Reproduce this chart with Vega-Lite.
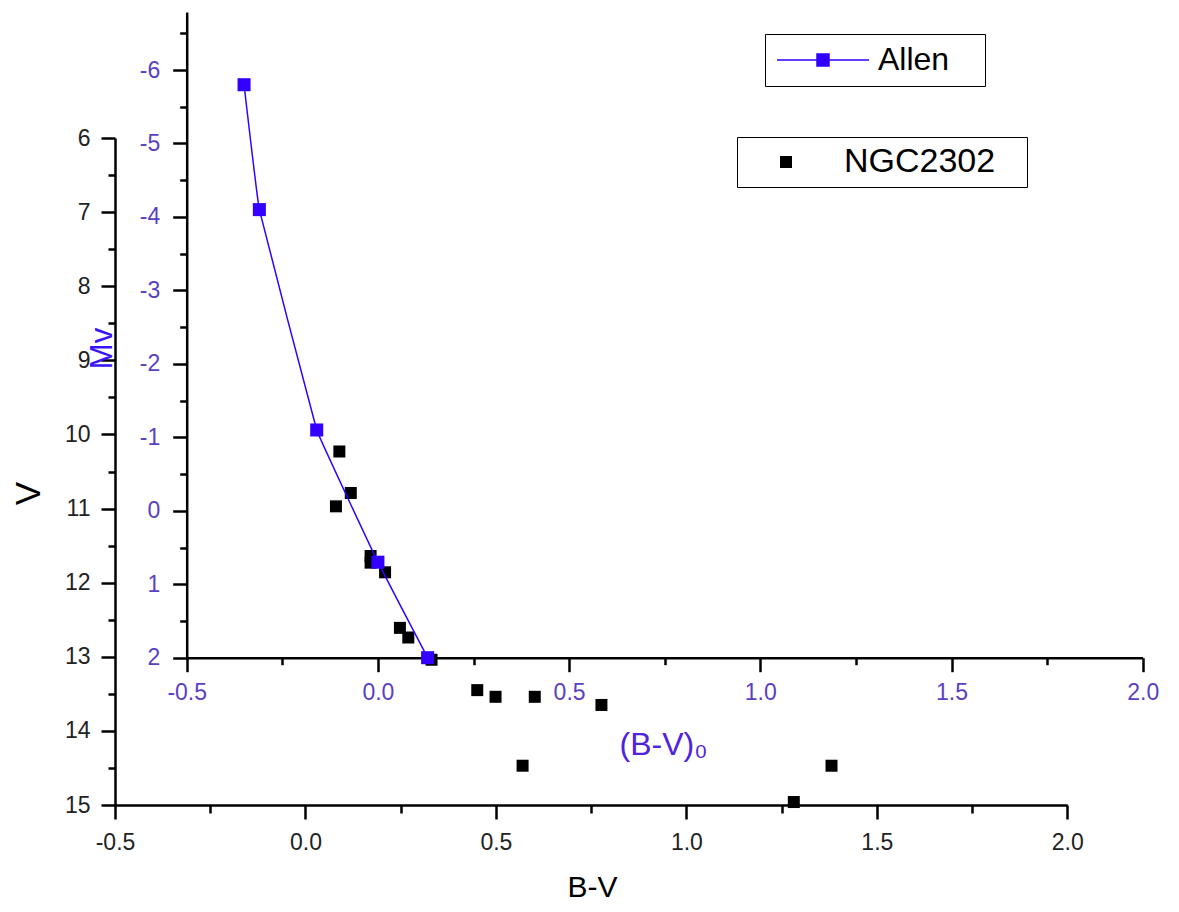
{
  "$schema": "https://vega.github.io/schema/vega-lite/v6.json",
  "autosize": {"type": "none"},
  "padding": {"left": 115, "top": 12, "right": 36, "bottom": 107},
  "width": 1028,
  "height": 793,
  "background": "white",
  "config": {
    "view": {"stroke": null},
    "axis": {
      "grid": false,
      "domainColor": "black",
      "domainWidth": 2.5,
      "tickColor": "black",
      "tickWidth": 2.5,
      "labelFont": "Liberation Sans",
      "labelFontSize": 23,
      "titleFont": "Liberation Sans",
      "titleFontWeight": "normal",
      "labelFlush": false,
      "labelBound": false,
      "labelOverlap": false
    }
  },
  "datasets": {
    "ngc": [
      {"series": "NGC2302", "bv": 0.089, "v": 10.23},
      {"series": "NGC2302", "bv": 0.119, "v": 10.79},
      {"series": "NGC2302", "bv": 0.080, "v": 10.97},
      {"series": "NGC2302", "bv": 0.171, "v": 11.64},
      {"series": "NGC2302", "bv": 0.171, "v": 11.73},
      {"series": "NGC2302", "bv": 0.209, "v": 11.86},
      {"series": "NGC2302", "bv": 0.248, "v": 12.61},
      {"series": "NGC2302", "bv": 0.270, "v": 12.74},
      {"series": "NGC2302", "bv": 0.331, "v": 13.04},
      {"series": "NGC2302", "bv": 0.451, "v": 13.45},
      {"series": "NGC2302", "bv": 0.499, "v": 13.54},
      {"series": "NGC2302", "bv": 0.602, "v": 13.54},
      {"series": "NGC2302", "bv": 0.777, "v": 13.65},
      {"series": "NGC2302", "bv": 0.570, "v": 14.47},
      {"series": "NGC2302", "bv": 1.381, "v": 14.47},
      {"series": "NGC2302", "bv": 1.282, "v": 14.96}
    ],
    "allen": [
      {"series": "Allen", "bv0": -0.35, "mv": -5.8},
      {"series": "Allen", "bv0": -0.31, "mv": -4.1},
      {"series": "Allen", "bv0": -0.16, "mv": -1.1},
      {"series": "Allen", "bv0": 0.00, "mv": 0.7},
      {"series": "Allen", "bv0": 0.13, "mv": 2.0}
    ]
  },
  "layer": [
    {
      "data": {"name": "ngc"},
      "mark": {"type": "point", "shape": "square", "filled": true, "color": "black", "size": 144, "opacity": 1},
      "encoding": {
        "x": {
          "field": "bv", "type": "quantitative",
          "scale": {"domain": [-0.5, 2.0], "range": [0, 952.3], "nice": false, "zero": false},
          "axis": {
            "orient": "bottom",
            "title": "B-V",
            "values": [-0.5, -0.25, 0, 0.25, 0.5, 0.75, 1, 1.25, 1.5, 1.75, 2],
            "labelExpr": "abs(datum.value*2 - round(datum.value*2)) < 0.001 ? replace(format(datum.value, '.1f'), '\u2212', '-') : ''",
            "tickSize": {"condition": {"test": "abs(datum.value*2 - round(datum.value*2)) < 0.001", "value": 14}, "value": 8},
            "labelPadding": 12,
            "labelColor": "#222222",
            "titleColor": "black",
            "titleFontSize": 30,
            "titleX": 477,
            "titleY": 82,
            "titleAlign": "center",
            "titleBaseline": "middle",
            "titleAngle": 0
          }
        },
        "y": {
          "field": "v", "type": "quantitative",
          "scale": {"domain": [6, 15], "range": [126, 793], "nice": false, "zero": false},
          "axis": {
            "orient": "left",
            "title": "V",
            "values": [6, 6.5, 7, 7.5, 8, 8.5, 9, 9.5, 10, 10.5, 11, 11.5, 12, 12.5, 13, 13.5, 14, 14.5, 15],
            "labelExpr": "datum.value % 1 === 0 ? '' + datum.value : ''",
            "tickSize": {"condition": {"test": "datum.value % 1 === 0", "value": 14}, "value": 7},
            "labelPadding": 11,
            "labelColor": "#222222",
            "titleColor": "black",
            "titleFontSize": 35,
            "titleX": -87,
            "titleY": 481,
            "titleAngle": -90,
            "titleAlign": "center",
            "titleBaseline": "middle"
          }
        },
        "shape": {
          "field": "series", "type": "nominal",
          "scale": {"domain": ["NGC2302"], "range": ["square"]},
          "legend": {
            "orient": "none",
            "legendX": 622,
            "legendY": 125,
            "title": ".",
            "titleOrient": "right",
            "titleOpacity": 0,
            "titleFontSize": 20,
            "titlePadding": 18,
            "strokeColor": "black",
            "padding": 8,
            "symbolSize": 144,
            "symbolOffset": 24,
            "symbolStrokeWidth": 0,
            "labelOffset": 41,
            "labelFont": "Liberation Sans",
            "labelFontSize": 34,
            "labelColor": "black",
            "encode": {"symbols": {"update": {"fill": {"value": "black"}, "stroke": {"value": "black"}, "opacity": {"value": 1}}}}
          }
        }
      }
    },
    {
      "data": {"name": "allen"},
      "encoding": {
        "x": {
          "field": "bv0", "type": "quantitative",
          "scale": {"domain": [-0.5, 2.0], "range": [71.7, 1027.7], "nice": false, "zero": false},
          "axis": {
            "orient": "bottom",
            "offset": -147.3,
            "title": "(B-V)\u2080",
            "values": [-0.5, -0.25, 0, 0.25, 0.5, 0.75, 1, 1.25, 1.5, 1.75, 2],
            "labelExpr": "abs(datum.value*2 - round(datum.value*2)) < 0.001 ? replace(format(datum.value, '.1f'), '\u2212', '-') : ''",
            "tickSize": {"condition": {"test": "abs(datum.value*2 - round(datum.value*2)) < 0.001", "value": 14}, "value": 7},
            "labelPadding": 10,
            "labelColor": "#5a3fc4",
            "titleColor": "#4f22e0",
            "titleFontSize": 32,
            "titleX": 548,
            "titleY": 87,
            "titleAlign": "center",
            "titleBaseline": "middle",
            "titleAngle": 0
          }
        },
        "y": {
          "field": "mv", "type": "quantitative",
          "scale": {"domain": [-6.79, 2], "range": [0, 645.7], "nice": false, "zero": false},
          "axis": {
            "orient": "left",
            "offset": -71.7,
            "title": "Mv",
            "values": [-6.5, -6, -5.5, -5, -4.5, -4, -3.5, -3, -2.5, -2, -1.5, -1, -0.5, 0, 0.5, 1, 1.5, 2],
            "labelExpr": "datum.value % 1 === 0 ? replace('' + datum.value, '\u2212', '-') : ''",
            "tickSize": {"condition": {"test": "datum.value % 1 === 0", "value": 14}, "value": 7},
            "labelPadding": 13,
            "labelColor": "#5a3fc4",
            "titleColor": "#3a14ff",
            "titleFontSize": 31,
            "titleX": -84,
            "titleY": 336,
            "titleAngle": -90,
            "titleAlign": "center",
            "titleBaseline": "middle"
          }
        },
        "color": {
          "field": "series", "type": "nominal",
          "scale": {"domain": ["Allen"], "range": ["#3300ff"]},
          "legend": {
            "orient": "none",
            "legendX": 650,
            "legendY": 22,
            "title": ".",
            "titleOrient": "right",
            "titleOpacity": 0,
            "titleFontSize": 20,
            "titlePadding": 20,
            "strokeColor": "black",
            "padding": 10,
            "symbolType": "M-7.67,0H7.67M-1,-1H1V1H-1Z",
            "symbolSize": 144,
            "symbolOffset": 32,
            "symbolStrokeWidth": 1.5,
            "labelOffset": 39,
            "labelFont": "Liberation Sans",
            "labelFontSize": 32,
            "labelColor": "black",
            "encode": {"symbols": {"update": {"fill": {"value": "#3300ff"}, "stroke": {"value": "#3300ff"}, "strokeWidth": {"value": 1.5}, "opacity": {"value": 1}}}}
          }
        }
      },
      "layer": [
        {"mark": {"type": "line", "strokeWidth": 1.5, "interpolate": "cardinal", "tension": 0.85}},
        {"mark": {"type": "point", "shape": "square", "filled": true, "size": 170, "opacity": 1}}
      ]
    }
  ],
  "resolve": {"scale": {"x": "independent", "y": "independent"}}
}
